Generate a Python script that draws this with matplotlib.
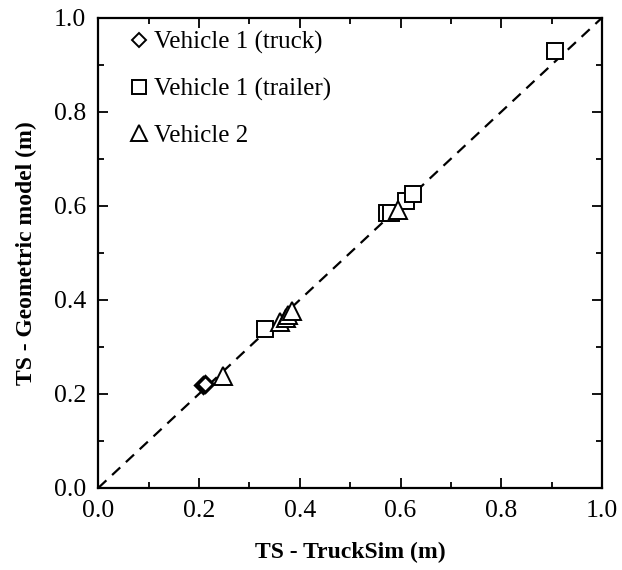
import matplotlib.pyplot as plt
from matplotlib.ticker import MultipleLocator

# swept path (TS) values, TruckSim vs geometric model, metres
truck_x = [0.208, 0.212]
truck_y = [0.219, 0.221]
trailer_x = [0.331, 0.574, 0.582, 0.610, 0.625, 0.907]
trailer_y = [0.337, 0.584, 0.585, 0.610, 0.626, 0.930]
veh2_x = [0.248, 0.360, 0.372, 0.377, 0.385, 0.595]
veh2_y = [0.239, 0.352, 0.362, 0.368, 0.376, 0.592]

plt.rcParams["font.family"] = ["Liberation Serif", "DejaVu Serif"]
plt.rcParams["font.size"] = 17

fig = plt.figure(figsize=(6.22, 5.70), dpi=100)
ax = fig.add_axes([0.158, 0.144, 0.810, 0.825])

ax.plot([0, 1], [0, 1], color="black", lw=1.6, ls=(0, (5, 3.5)), zorder=1)

mk = dict(ls="none", mfc="white", mec="black", mew=1.4)
ax.plot(truck_x, truck_y, marker="D", ms=8, label="Vehicle 1 (truck)",
        **{**mk, "mew": 2.2})
ax.plot(trailer_x, trailer_y, marker="s", ms=12, label="Vehicle 1 (trailer)", **mk)
ax.plot(veh2_x, veh2_y, marker="^", ms=13, label="Vehicle 2", **mk)

ax.set_xlim(0, 1)
ax.set_ylim(0, 1)
ax.xaxis.set_major_locator(MultipleLocator(0.2))
ax.yaxis.set_major_locator(MultipleLocator(0.2))
ax.xaxis.set_minor_locator(MultipleLocator(0.1))
ax.yaxis.set_minor_locator(MultipleLocator(0.1))
ax.xaxis.set_major_formatter(lambda v, p: f"{v:.1f}")
ax.yaxis.set_major_formatter(lambda v, p: f"{v:.1f}")
ax.tick_params(which="both", direction="in", top=True, right=True, width=1.3)
ax.tick_params(which="major", length=7, labelsize=18.5, pad=9)
ax.tick_params(which="minor", length=4)
for s in ax.spines.values():
    s.set_linewidth(1.6)

ax.set_xlabel("TS - TruckSim (m)", fontweight="bold", fontsize=17, labelpad=14)
ax.set_ylabel("TS - Geometric model (m)", fontweight="bold", fontsize=17, labelpad=12)

handles, labels = ax.get_legend_handles_labels()
leg = ax.legend(handles, labels, loc="upper left", bbox_to_anchor=(0.033, 0.993),
                frameon=False, fontsize=18, handletextpad=0.0, labelspacing=0.95,
                handlelength=1.15, borderaxespad=0, markerscale=0.85)
# legend diamond drawn with a normal edge width
leg.legend_handles[0].set_markeredgewidth(1.4)

fig.savefig("out.png", dpi=100)
